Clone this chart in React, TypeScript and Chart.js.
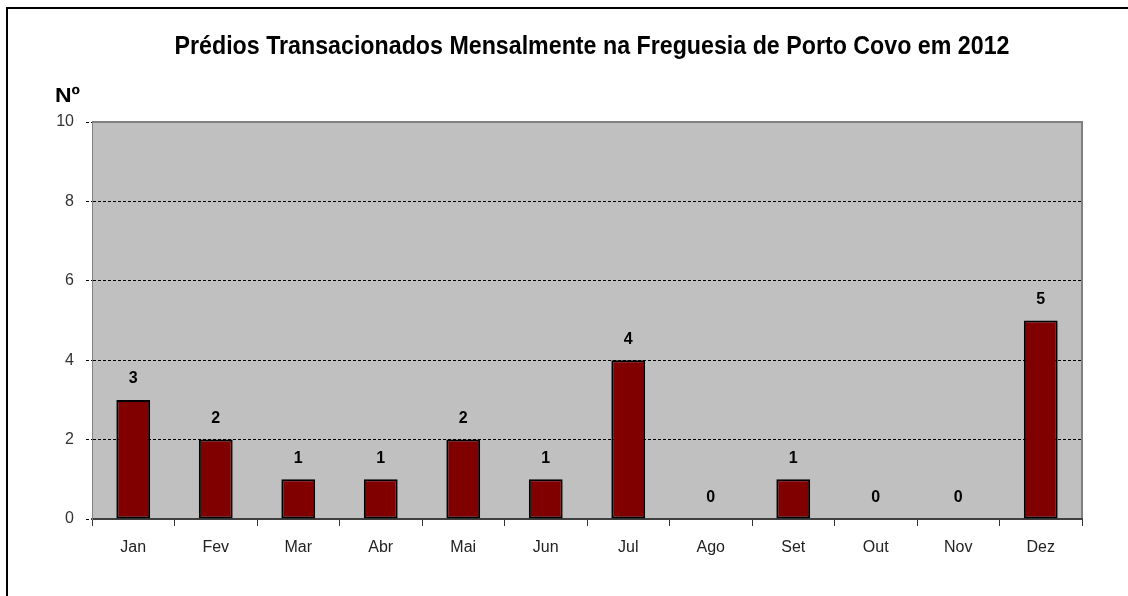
import React, { useEffect, useRef } from "react";
import { Chart, registerables } from "chart.js";

Chart.register(...registerables);

const categories = ["Jan", "Fev", "Mar", "Abr", "Mai", "Jun", "Jul", "Ago", "Set", "Out", "Nov", "Dez"];
const values = [3, 2, 1, 1, 2, 1, 4, 0, 1, 0, 0, 5];
const yTicks = [0, 2, 4, 6, 8, 10];
const titleText = "Prédios Transacionados Mensalmente na Freguesia de Porto Covo em 2012";
const yAxisLabel = "Nº";

export default function App() {
  const ref = useRef<HTMLCanvasElement | null>(null);

  useEffect(() => {
    if (!ref.current) return;
    const drawNarrow = (ctx: any, text: string, x: number, y: number, targetW: number, align: string) => {
      const w = ctx.measureText(text).width;
      const s = targetW / w;
      ctx.save();
      ctx.translate(x, y);
      ctx.scale(s, 1);
      ctx.textAlign = align;
      ctx.fillText(text, 0, 0);
      ctx.restore();
    };
    const bgPlugin = {
      id: "plotbg",
      beforeDraw(chart: any) {
        const { ctx, chartArea: a } = chart;
        ctx.save();
        ctx.fillStyle = "#c0c0c0";
        ctx.fillRect(a.left, a.top, a.right - a.left, a.bottom - a.top);
        ctx.strokeStyle = "#808080";
        ctx.lineWidth = 2;
        ctx.beginPath();
        ctx.moveTo(a.left, a.top);
        ctx.lineTo(a.right, a.top);
        ctx.lineTo(a.right, a.bottom);
        ctx.stroke();
        ctx.restore();
      },
      afterDraw(chart: any) {
        const { ctx } = chart;
        ctx.save();
        ctx.fillStyle = "#000";
        ctx.textBaseline = "middle";
        ctx.font = "bold 25px 'Liberation Sans', Arial, sans-serif";
        drawNarrow(ctx, titleText, 592, 47, 835, "center");
        ctx.font = "bold 20px 'Liberation Sans', Arial, sans-serif";
        drawNarrow(ctx, yAxisLabel, 55, 96, 25, "left");
        ctx.restore();
      },
      afterDatasetsDraw(chart: any) {
        const { ctx } = chart;
        const meta = chart.getDatasetMeta(0);
        ctx.save();
        ctx.fillStyle = "#000";
        ctx.textAlign = "center";
        ctx.textBaseline = "middle";
        ctx.font = "bold 16px 'Liberation Sans', Arial, sans-serif";
        meta.data.forEach((bar: any, i: number) => {
          ctx.fillText(String(values[i]), bar.x, bar.y - 21);
        });
        ctx.restore();
      },
    };

    const chart = new Chart(ref.current, {
      type: "bar",
      data: {
        labels: categories,
        datasets: [
          {
            data: values,
            backgroundColor: "#800000",
            borderColor: "#000000",
            borderWidth: 2,
            borderSkipped: false,
            barPercentage: 0.41,
            categoryPercentage: 1,
          },
        ],
      },
      options: {
        animation: false,
        responsive: false,
        layout: { padding: { top: 122, right: 46, left: 0, bottom: 0 } },
        plugins: { legend: { display: false }, tooltip: { enabled: false }, title: { display: false } },
        scales: {
          x: {
            offset: true,
            grid: {
              display: true,
              drawOnChartArea: false,
              drawTicks: true,
              tickLength: 7,
              tickColor: "#333",
              tickWidth: 1,
            },
            border: { color: "#404040", width: 2 },
            ticks: {
              color: "#222",
              padding: 12,
              font: { family: "'Liberation Sans', Arial, sans-serif", size: 16 },
            },
            afterFit(scale: any) {
              scale.height = 77;
            },
          },
          y: {
            min: 0,
            max: 10,
            afterBuildTicks(scale: any) {
              scale.ticks = yTicks.map((v) => ({ value: v }));
            },
            grid: {
              color: (c: any) => (c.tick && (c.tick.value === 0 || c.tick.value === 10) ? "rgba(0,0,0,0)" : "#000"),
              lineWidth: 1,
              tickLength: 6,
              tickColor: "#000",
              tickBorderDash: [3, 2],
            } as any,
            border: { color: "#808080", width: 1, dash: [3, 2] } as any,
            ticks: {
              color: "#333",
              padding: 12,
              font: { family: "'Liberation Sans', Arial, sans-serif", size: 16 },
            },
            afterFit(scale: any) {
              scale.width = 92;
            },
          },
        },
      },
      plugins: [bgPlugin],
    });
    return () => chart.destroy();
  }, []);

  return (
    <div style={{ position: "fixed", left: 0, top: 0, width: 1128, height: 596, overflow: "hidden", background: "#fff" }}>
      <div
        style={{
          position: "absolute",
          left: 6,
          top: 7,
          width: 1300,
          height: 800,
          border: "2px solid #000",
        }}
      />
      <canvas ref={ref} width={1128} height={596} style={{ position: "absolute", left: 0, top: 0, display: "block" }} />
    </div>
  );
}
